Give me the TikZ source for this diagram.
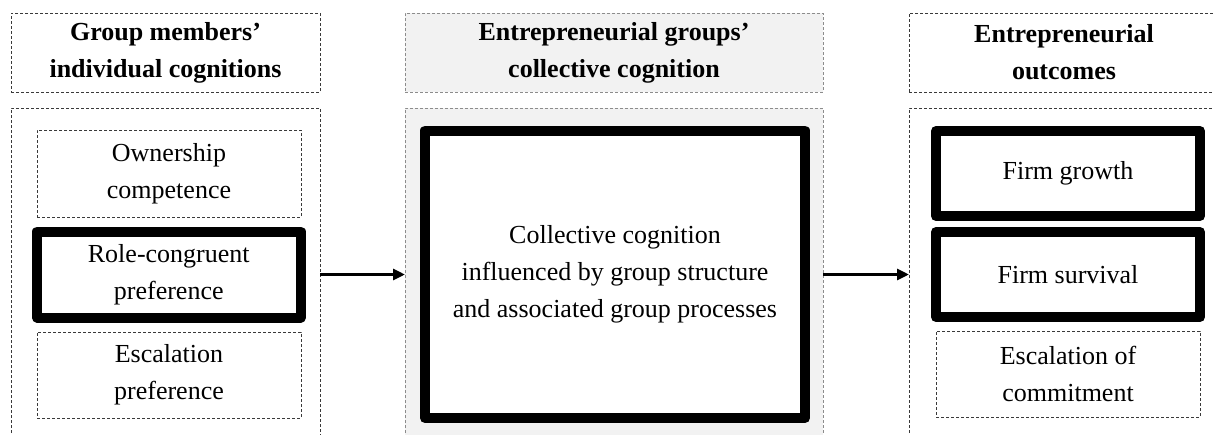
\documentclass[tikz,border=0pt]{standalone}
\usepackage{fontspec}
\setmainfont{Liberation Serif}
\usetikzlibrary{arrows.meta}
\definecolor{panelgray}{HTML}{F2F2F2}
\definecolor{darkdash}{HTML}{3A3A3A}
\definecolor{lightdash}{HTML}{8C8C8C}
\tikzset{
  txt/.style={font=\fontsize{26}{37}\selectfont, align=center, inner sep=0pt},
  headtxt/.style={txt, font=\fontsize{26}{37}\selectfont\bfseries},
  dashbox/.style={draw=darkdash, line width=0.9pt, dash pattern=on 3pt off 2pt},
  greydash/.style={draw=lightdash, line width=0.9pt, dash pattern=on 3pt off 2pt},
  thickbox/.style={draw=black, line width=10pt, line join=round, fill=white},
  panel/.style={inner sep=0pt, outer sep=0pt},
  flow/.style={line width=3.8pt, -{Triangle[length=12pt,width=11pt]}},
}
\begin{document}
\begin{tikzpicture}[x=1pt, y=-1pt]
  \useasboundingbox (0,0) rectangle (1213,434);
  \clip (0,0) rectangle (1213,434);

  % column panels (open at the bottom)
  \node[panel, minimum width=309pt, minimum height=340pt] (lbody) at (165.5,278) {};
  \node[panel, minimum width=418pt, minimum height=340pt] (mbody) at (614,278) {};
  \node[panel, minimum width=320pt, minimum height=340pt] (rbody) at (1069,278) {};
  \fill[panelgray] (mbody.south west) rectangle (mbody.north east);
  \draw[dashbox]  (lbody.south west) -- (lbody.north west) -- (lbody.north east) -- (lbody.south east);
  \draw[greydash] (mbody.south west) -- (mbody.north west) -- (mbody.north east) -- (mbody.south east);
  \draw[dashbox]  (rbody.south west) -- (rbody.north west) -- (rbody.north east);

  % column headings
  \node[headtxt, dashbox, minimum width=309pt, minimum height=79pt] (lhead) at (165.5,52.5)
    {Group members'\\individual cognitions};
  \node[headtxt, greydash, fill=panelgray, minimum width=418pt, minimum height=79pt] (mhead) at (614,52.5)
    {Entrepreneurial groups'\\collective cognition};
  \node[headtxt, dashbox, minimum width=320pt, minimum height=79pt] (rhead) at (1069,52.5) {};
  \node[headtxt] (rheadtxt) at (1064,52.5) {Entrepreneurial\\outcomes};

  % individual cognitions
  \node[txt, dashbox, minimum width=264pt, minimum height=87pt] (own) at (169,173.5)
    {Ownership\\competence};
  \node[txt, thickbox, minimum width=263.5pt, minimum height=86pt] (role) at (168.75,274.5)
    {Role-congruent\\preference};
  \node[txt, dashbox, minimum width=264pt, minimum height=86pt] (esc) at (169,375)
    {Escalation\\preference};

  % collective cognition
  \node[txt, thickbox, minimum width=380pt, minimum height=287.5pt] (coll) at (615,274.25)
    {Collective cognition\\influenced by group structure\\and associated group processes};

  % outcomes
  \node[txt, thickbox, minimum width=264pt, minimum height=85pt] (growth) at (1068,173.5)
    {Firm growth};
  \node[txt, thickbox, minimum width=264pt, minimum height=85pt] (surv) at (1068,274.5)
    {Firm survival};
  \node[txt, dashbox, minimum width=264pt, minimum height=86pt] (commit) at (1068,374)
    {Escalation of\\commitment};

  % connectors between the columns
  \draw[flow] (lbody.east |- role.east) -- (mbody.west |- role.east);
  \draw[flow] (mbody.east |- surv.west) -- (rbody.west |- surv.west);
\end{tikzpicture}
\end{document}
